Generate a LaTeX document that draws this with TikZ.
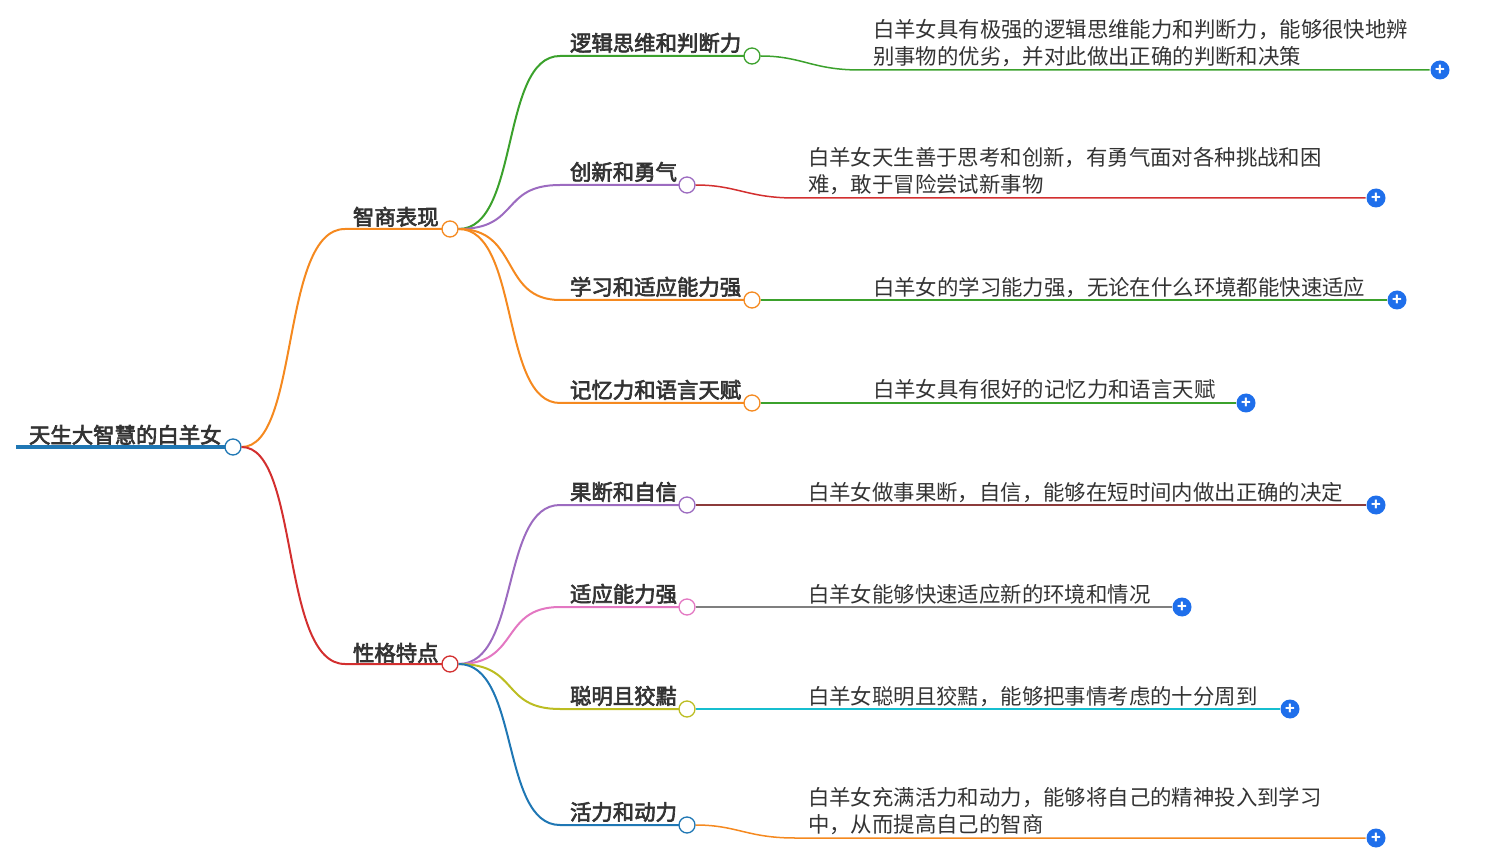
\documentclass[tikz,border=0pt]{standalone}
\usepackage{fontspec}
\setmainfont{Noto Sans CJK SC}
\newfontfamily\cjkb[FakeBold=3]{Noto Sans CJK SC}
\begin{document}
\begin{tikzpicture}[x=1pt,y=-1pt,line width=2pt]
\definecolor{cO}{HTML}{F5891F}\definecolor{cR}{HTML}{D32F2F}\definecolor{cG}{HTML}{3BA12C}
\definecolor{cP}{HTML}{9C6BC0}\definecolor{cB}{HTML}{1F77B4}\definecolor{cK}{HTML}{E377C2}
\definecolor{cY}{HTML}{BCBD22}\definecolor{cC}{HTML}{17BECF}\definecolor{cM}{HTML}{8C3B3B}
\definecolor{cGr}{HTML}{7F7F7F}\definecolor{plus}{HTML}{1F6FEB}\definecolor{tx}{HTML}{333333}
\tikzset{
 dot/.style={circle,draw=#1,fill=white,line width=1.3pt,minimum size=16pt,inner sep=0},
 lab/.style={font=\cjkb\fontsize{21.4}{24}\selectfont,text=tx,anchor=base west,inner sep=0},
 leaf/.style={font=\fontsize{21.4}{27}\selectfont,text=tx,anchor=north west,inner sep=0,align=left},
 pl/.style={circle,fill=plus,minimum size=19pt,inner sep=0,font=\bfseries\fontsize{16}{16}\selectfont,text=white}}
\useasboundingbox (0,0) rectangle (1505,858);
% root
\node[lab] (root) at (28,443) {天生大智慧的白羊女};
\draw[cB,line width=4pt] (16,447) -- (226,447);
\node[dot=cB] (r) at (233,447) {};
% level 1
\node[lab] (l1a) at (352,225) {智商表现};
\node[lab] (l1b) at (352,661) {性格特点};
\draw[cO] (r) .. controls (300,447) and (280,229) .. (345,229) -- (442,229);
\draw[cR] (r) .. controls (300,447) and (280,664) .. (345,664) -- (442,664);
\node[dot=cO] (a) at (450,229) {};
\node[dot=cR] (b) at (450,664) {};
\foreach \y/\xe/\c/\t/\cl/\ly/\px/\tx/\ty/\pn/\py/\txt in {
 56/752/cG/逻辑思维和判断力/cG/70/1440/872/18/a/229/{白羊女具有极强的逻辑思维能力和判断力，能够很快地辨\\别事物的优劣，并对此做出正确的判断和决策},
 185/687/cP/创新和勇气/cR/198/1376/807/146/a/229/{白羊女天生善于思考和创新，有勇气面对各种挑战和困\\难，敢于冒险尝试新事物},
 300/752/cO/学习和适应能力强/cG/300/1397/872/276/a/229/{白羊女的学习能力强，无论在什么环境都能快速适应},
 403/752/cO/记忆力和语言天赋/cG/403/1246/872/378/a/229/{白羊女具有很好的记忆力和语言天赋},
 505/687/cP/果断和自信/cM/505/1376/807/481/b/664/{白羊女做事果断，自信，能够在短时间内做出正确的决定},
 607/687/cK/适应能力强/cGr/607/1182/807/583/b/664/{白羊女能够快速适应新的环境和情况},
 709/687/cY/聪明且狡黠/cC/709/1290/807/685/b/664/{白羊女聪明且狡黠，能够把事情考虑的十分周到},
 825/687/cB/活力和动力/cO/838/1376/807/786/b/664/{白羊女充满活力和动力，能够将自己的精神投入到学习\\中，从而提高自己的智商}}
{
 \node[lab] (t-\y) at (569,\y-5) {\t};
 \draw[\c] (\pn) .. controls (520,\py) and (500,\y) .. (560,\y) -- (\xe-8,\y);
 \node[dot=\c] (c-\y) at (\xe,\y) {};
 \node[leaf] (x-\y) at (\tx,\ty) {\txt};
 \node[pl] (p-\y) at (\px,\ly) {+};
 \draw[\cl,line width=1.5pt] (c-\y) .. controls (\xe+50,\y) and (\xe+60,\ly) .. (\xe+108,\ly) -- (p-\y.west);
}
\end{tikzpicture}
\end{document}
